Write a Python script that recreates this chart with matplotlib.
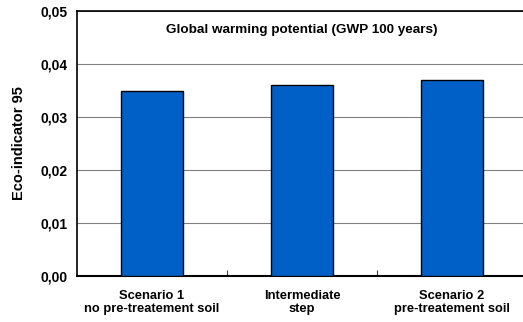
import matplotlib
matplotlib.use("Agg")
import matplotlib.pyplot as plt
from matplotlib.ticker import FuncFormatter, FixedLocator

categories = ["Scenario 1\nno pre-treatement soil", "Intermediate\nstep", "Scenario 2\npre-treatement soil"]
values = [0.035, 0.036, 0.037]

plt.rcParams['font.family'] = ['Liberation Sans', 'DejaVu Sans']
plt.rcParams['font.weight'] = 'bold'

fig = plt.figure(figsize=(5.23, 3.22), dpi=100)
ax = fig.add_axes([0.1472, 0.1429, 0.8604, 0.8229])

x = range(len(categories))
ax.bar(x, values, width=0.41, color='#0060c8', edgecolor='black', linewidth=1.0, zorder=3)

ax.set_xlim(-0.5, 2.5)
ax.set_ylim(0, 0.05)
ax.set_yticks([0, 0.01, 0.02, 0.03, 0.04, 0.05])
ax.yaxis.set_major_formatter(FuncFormatter(lambda v, p: f"{v:.2f}".replace('.', ',')))
ax.grid(axis='y', color='#808080', linewidth=0.8, zorder=0)

ax.set_xticks(list(x))
ax.set_xticklabels(categories, fontsize=9.3, fontweight='bold', linespacing=1.15)
ax.tick_params(axis='x', which='major', length=0, pad=10)
ax.xaxis.set_minor_locator(FixedLocator([0.5, 1.5]))
ax.tick_params(axis='x', which='minor', direction='in', length=4, width=0.8, color='#404040')
ax.tick_params(axis='y', length=0, pad=7, labelsize=10)
for lbl in ax.get_yticklabels():
    lbl.set_fontweight('bold')

ax.spines['right'].set_visible(False)
ax.spines['top'].set_linewidth(1.2)
ax.spines['left'].set_linewidth(1.2)
ax.spines['bottom'].set_linewidth(1.5)

ax.set_ylabel("Eco-indicator 95", fontsize=10.5, fontweight='bold', labelpad=10)
ax.text(0.5, 0.928, "Global warming potential (GWP 100 years)", transform=ax.transAxes,
        ha='center', va='center', fontsize=9.7, fontweight='bold')

fig.savefig("out.png", dpi=100)
